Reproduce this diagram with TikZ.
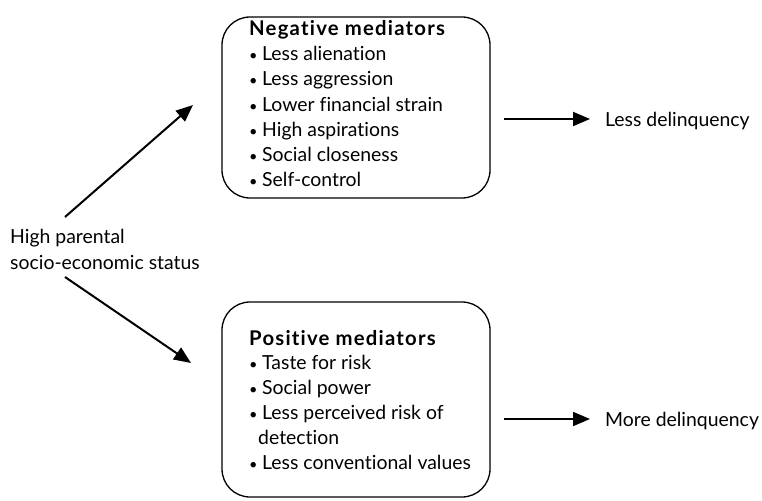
\documentclass[tikz,border=0pt]{standalone}
\usepackage{fontspec}
\setmainfont{Lato}[Ligatures=NoCommon]
\newfontfamily\headfont{Lato Bold}[LetterSpace=6,Ligatures=NoCommon]
\usetikzlibrary{arrows.meta,calc}
% small bullet followed by a fixed gap
\newcommand\blt{\makebox[13pt][l]{\scalebox{0.75}{\textbullet}}}
\begin{document}
\begin{tikzpicture}[x=1pt,y=-1pt,
  every node/.style={font=\fontsize{19.4}{25}\selectfont, inner sep=0pt},
  medbox/.style={draw, line width=1.3pt, rounded corners=28pt},
  arr/.style={line width=2pt, -{Triangle[length=17pt,width=14pt]}},
  txt/.style={anchor=base west, align=left},
  head/.style={txt, font=\headfont\fontsize{20.3}{25}\selectfont}]
\useasboundingbox (0,0) rectangle (762,500);

% mediator boxes
\node[medbox, minimum width=268pt, minimum height=181pt] (neg) at (356,107.5) {};
\node[medbox, minimum width=268pt, minimum height=195pt] (pos) at (356,399.5) {};

% box contents
\node[head] (negtitle) at (249,36) {Negative mediators};
\node[txt] (neg1) at (249,61) {\blt Less alienation};
\node[txt] (neg2) at (249,86) {\blt Less aggression};
\node[txt] (neg3) at (249,111) {\blt Lower financial strain};
\node[txt] (neg4) at (249,136) {\blt High aspirations};
\node[txt] (neg5) at (249,161) {\blt Social closeness};
\node[txt] (neg6) at (249,186) {\blt Self-control};

\node[head] (postitle) at (249,345) {Positive mediators};
\node[txt] (pos1) at (249,369) {\blt Taste for risk};
\node[txt] (pos2) at (249,394) {\blt Social power};
\node[txt] (pos3) at (249,419) {\blt Less perceived risk of};
\node[txt] (pos3b) at (258,444) {detection};
\node[txt] (pos4) at (249,469) {\blt Less conventional values};

% source and outcomes
\node[txt] (src1) at (10,243) {High parental};
\node[txt] (src2) at (10,269) {socio-economic status};
\node[txt] (less) at (605,126) {Less delinquency};
\node[txt] (more) at (605,426) {More delinquency};

% arrow ends
\coordinate (s1) at (65,217);
\coordinate (t1) at (193,105);
\coordinate (s2) at (65,277);
\coordinate (t2) at (191,363);
\coordinate (r1s) at (504,119);
\coordinate (r1t) at (590,119);
\coordinate (r2s) at (504,419);
\coordinate (r2t) at (590,419);

\draw[arr] (s1) -- (t1);
\draw[arr] (s2) -- (t2);
\draw[arr] (r1s) -- (r1t);
\draw[arr] (r2s) -- (r2t);
\end{tikzpicture}
\end{document}
